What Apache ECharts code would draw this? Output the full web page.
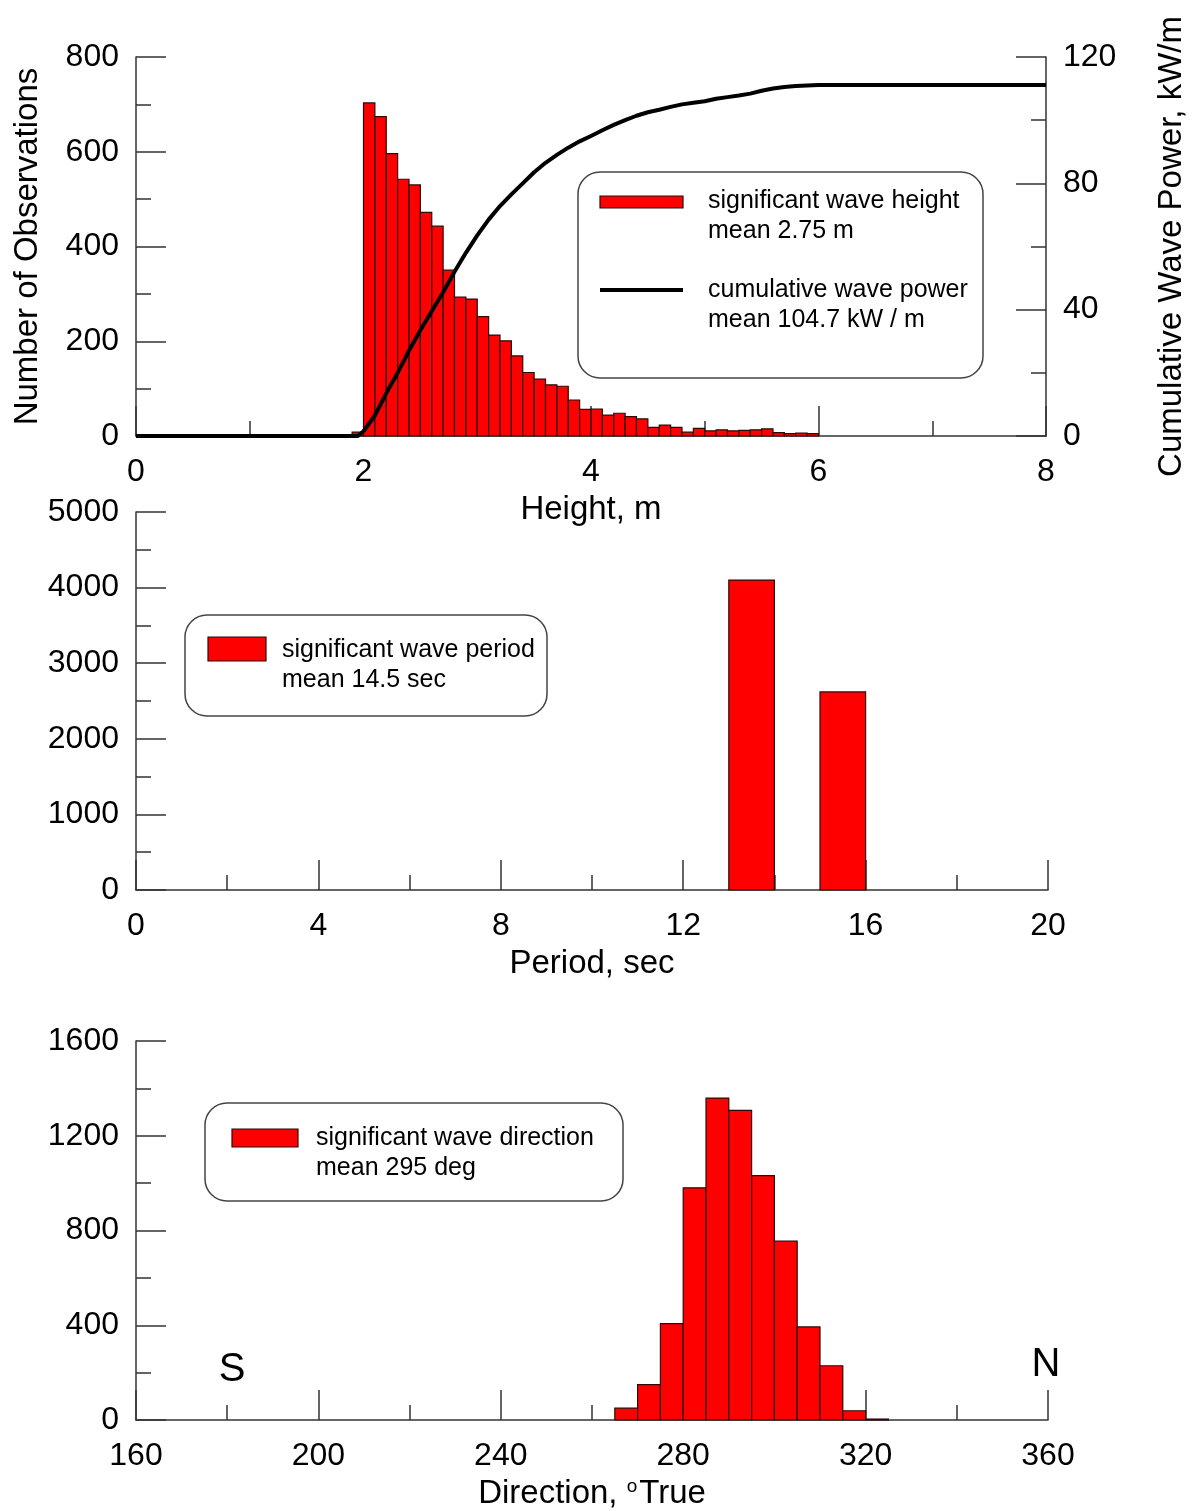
<!DOCTYPE html>
<html>
<head>
<meta charset="utf-8">
<title>Wave statistics</title>
<script src="https://cdn.jsdelivr.net/npm/echarts@6/dist/echarts.min.js"></script>
<style>
  html, body { margin: 0; padding: 0; background: #fff; }
  #chart { width: 1196px; height: 1511px; }
</style>
</head>
<body>
<div id="chart"></div>
<script>
// ---- significant wave height histogram (0.1 m bins, first bin starts at 1.9 m)
const heightBinStart = 1.9;
const heightBinWidth = 0.1;
const heightCounts = [
  8, 703, 674, 596, 542, 530, 472, 443, 350, 293,
  289, 252, 213, 201, 169, 134, 120, 108, 105, 76,
  56, 57, 44, 48, 41, 36, 18, 23, 18, 8,
  16, 11, 13, 11, 12, 13, 15, 7, 5, 6, 5
];

// ---- cumulative wave power curve (kW/m) against wave height (m)
const powerHeights = [
  0, 1.95, 2.0, 2.1, 2.2, 2.3, 2.4, 2.5, 2.6, 2.7, 2.8, 2.9,
  3.0, 3.1, 3.2, 3.3, 3.4, 3.5, 3.6, 3.7, 3.8, 3.9,
  4.0, 4.1, 4.2, 4.3, 4.4, 4.5, 4.6, 4.7, 4.8, 4.9,
  5.0, 5.1, 5.2, 5.3, 5.4, 5.5, 5.6, 5.7, 5.8, 5.9, 6.0, 8.0
];
const powerCumulative = [
  0, 0, 1.5, 6.5, 13.5, 20, 27, 33.5, 39.5, 45.5, 52, 58,
  63.5, 68.5, 72.8, 76.5, 80, 83.5, 86.5, 89, 91.3, 93.3,
  95, 96.8, 98.5, 100, 101.4, 102.5, 103.3, 104.2, 105, 105.5,
  106, 106.8, 107.3, 107.8, 108.4, 109.3, 110, 110.5, 110.8, 111, 111.1, 111.1
];

// ---- significant wave period histogram (sec)
const periodBinStarts = [13, 15];
const periodBinWidth = 1;
const periodCounts = [4100, 2620];

// ---- significant wave direction histogram (5 degree bins from 265 deg True)
const directionBinStart = 265;
const directionBinWidth = 5;
const directionCounts = [50, 149, 407, 980, 1359, 1307, 1032, 755, 393, 229, 39, 4];

// ---- axis tick settings
const heightTicks = { min: 0, max: 8, interval: 2 };
const obsTicks = { min: 0, max: 800, interval: 200 };
const powerTicks = { min: 0, max: 120, interval: 40 };
const periodTicks = { min: 0, max: 20, interval: 4 };
const periodObsTicks = { min: 0, max: 5000, interval: 1000 };
const dirTicks = { min: 160, max: 360, interval: 40 };
const dirObsTicks = { min: 0, max: 1600, interval: 400 };

// ---------------------------------------------------------------
const FONT = '"Liberation Sans", Arial, sans-serif';
const AXIS_COLOR = '#333';
const BAR_FILL = '#ff0000';
const BAR_EDGE = '#2b0a0a';

function bins(start, width, counts) {
  return counts.map((c, i) => [start + i * width, start + (i + 1) * width, c]);
}
function binsFromStarts(starts, width, counts) {
  return counts.map((c, i) => [starts[i], starts[i] + width, c]);
}

function axisCommon(t, labelMargin) {
  return {
    type: 'value',
    min: t.min, max: t.max, interval: t.interval,
    axisLine: { show: true, onZero: false, lineStyle: { color: AXIS_COLOR, width: 1.5 } },
    axisTick: { show: true, inside: true, length: 30, lineStyle: { color: AXIS_COLOR, width: 1.5 } },
    minorTick: { show: true, splitNumber: 2, length: 15, lineStyle: { color: AXIS_COLOR, width: 1.5 } },
    splitLine: { show: false },
    minorSplitLine: { show: false },
    axisLabel: {
      fontSize: 32, color: '#000', fontFamily: FONT, margin: labelMargin,
      formatter: v => String(v)
    },
    nameTextStyle: { fontSize: 33, color: '#000', fontFamily: FONT }
  };
}

function histogram(xi, yi, data) {
  return {
    type: 'custom',
    xAxisIndex: xi, yAxisIndex: yi,
    data: data,
    encode: { x: [0, 1], y: 2 },
    z: 2,
    renderItem: function (params, api) {
      const topLeft = api.coord([api.value(0), api.value(2)]);
      const bottomRight = api.coord([api.value(1), 0]);
      return {
        type: 'rect',
        shape: {
          x: topLeft[0], y: topLeft[1],
          width: bottomRight[0] - topLeft[0],
          height: bottomRight[1] - topLeft[1]
        },
        style: { fill: BAR_FILL, stroke: BAR_EDGE, lineWidth: 1.2 }
      };
    }
  };
}

function legendBox(x, y, w, h) {
  return {
    type: 'rect', z: 50,
    shape: { x: x, y: y, width: w, height: h, r: 22 },
    style: { fill: '#fff', stroke: '#444', lineWidth: 1.5 }
  };
}
function legendText(x, y, text) {
  return {
    type: 'text', z: 51, x: x, y: y,
    style: { text: text, fill: '#000', font: '25px ' + FONT, verticalAlign: 'middle', align: 'left' }
  };
}
function legendSwatch(x, y, w, h) {
  return {
    type: 'rect', z: 51,
    shape: { x: x, y: y, width: w, height: h },
    style: { fill: BAR_FILL, stroke: BAR_EDGE, lineWidth: 1.2 }
  };
}

const grids = [
  { left: 136, top: 57, width: 912, height: 379 },
  { left: 136, top: 512, width: 912, height: 378 },
  { left: 136, top: 1041, width: 912, height: 380 }
];

const xAxes = [
  Object.assign(axisCommon(heightTicks, 20), {
    gridIndex: 0, position: 'bottom',
    name: 'Height, m', nameLocation: 'middle', nameGap: 57
  }),
  Object.assign(axisCommon(periodTicks, 20), {
    gridIndex: 1, position: 'bottom',
    name: 'Period, sec', nameLocation: 'middle', nameGap: 57
  }),
  Object.assign(axisCommon(dirTicks, 20), {
    gridIndex: 2, position: 'bottom',
    name: 'Direction, {sup|o}True', nameLocation: 'middle', nameGap: 57
  })
];
xAxes[2].nameTextStyle = {
  fontSize: 33, color: '#000', fontFamily: FONT,
  rich: { sup: { fontSize: 19, color: '#000', fontFamily: FONT, verticalAlign: 'top', padding: [0, 2, 14, 0] } }
};

const yAxes = [
  Object.assign(axisCommon(obsTicks, 17), {
    gridIndex: 0, position: 'left',
    name: 'Number of Observations', nameLocation: 'middle', nameGap: 92
  }),
  Object.assign(axisCommon(powerTicks, 17), {
    gridIndex: 0, position: 'right',
    name: 'Cumulative Wave Power, kW/m', nameLocation: 'middle', nameGap: 109
  }),
  Object.assign(axisCommon(periodObsTicks, 17), { gridIndex: 1, position: 'left' }),
  Object.assign(axisCommon(dirObsTicks, 17), { gridIndex: 2, position: 'left' })
];

const option = {
  backgroundColor: '#fff',
  animation: false,
  grid: grids,
  xAxis: xAxes,
  yAxis: yAxes,
  series: [
    histogram(0, 0, bins(heightBinStart, heightBinWidth, heightCounts)),
    {
      type: 'line',
      xAxisIndex: 0, yAxisIndex: 1,
      data: powerHeights.map((h, i) => [h, powerCumulative[i]]),
      showSymbol: false, symbol: 'none',
      lineStyle: { color: '#000', width: 4 },
      z: 5
    },
    histogram(1, 2, binsFromStarts(periodBinStarts, periodBinWidth, periodCounts)),
    histogram(2, 3, bins(directionBinStart, directionBinWidth, directionCounts))
  ],
  graphic: [
    // height / power legend
    legendBox(578, 172, 405, 206),
    legendSwatch(600, 196, 83, 12),
    { type: 'line', z: 51, shape: { x1: 600, y1: 290, x2: 683, y2: 290 }, style: { stroke: '#000', lineWidth: 4 } },
    legendText(708, 201, 'significant wave height'),
    legendText(708, 231, 'mean 2.75 m'),
    legendText(708, 290, 'cumulative wave power'),
    legendText(708, 320, 'mean 104.7 kW / m'),
    // period legend
    legendBox(185, 615, 362, 101),
    legendSwatch(208, 637, 58, 24),
    legendText(282, 650, 'significant wave period'),
    legendText(282, 680, 'mean 14.5 sec'),
    // direction legend
    legendBox(205, 1103, 418, 98),
    legendSwatch(232, 1129, 66, 18),
    legendText(316, 1138, 'significant wave direction'),
    legendText(316, 1168, 'mean 295 deg'),
    // compass markers
    { type: 'text', z: 51, x: 232, y: 1370, style: { text: 'S', fill: '#000', font: '40px ' + FONT, align: 'center', verticalAlign: 'middle' } },
    { type: 'text', z: 51, x: 1046, y: 1365, style: { text: 'N', fill: '#000', font: '40px ' + FONT, align: 'center', verticalAlign: 'middle' } }
  ]
};

const chart = echarts.init(document.getElementById('chart'), null, { renderer: 'canvas' });
chart.setOption(option);
</script>
</body>
</html>
